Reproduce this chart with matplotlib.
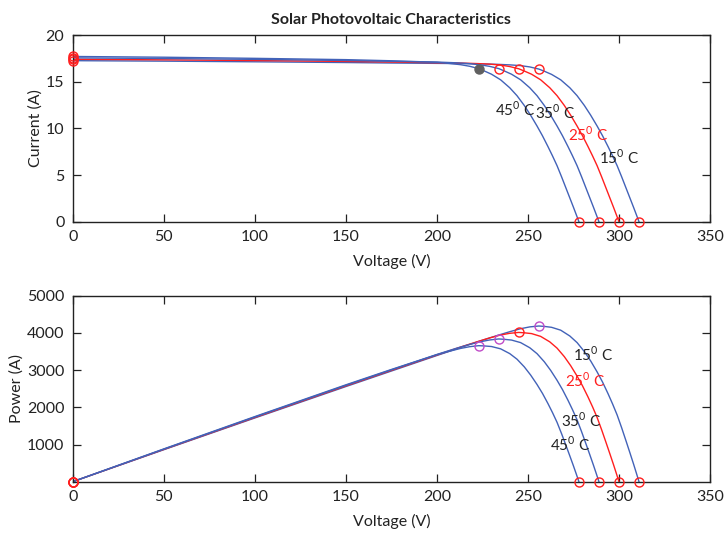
import matplotlib
matplotlib.use("Agg")
import matplotlib.pyplot as plt
import numpy as np

plt.rcParams['font.family'] = ['Lato', 'DejaVu Sans']
plt.rcParams['mathtext.fontset'] = 'custom'
plt.rcParams['mathtext.rm'] = 'Lato'

# ---- data ----
temps = ["15", "25", "35", "45"]

v15 = [0, 50, 100, 150, 175, 200, 216, 225, 233, 240, 246, 251, 256, 259, 263, 268, 273, 277, 281,
       284.5, 288, 291, 294, 296.5, 299, 301.5, 304, 306, 308, 309.5, 311]
i15 = [17.25, 17.20, 17.13, 17.05, 17.00, 16.96, 16.93, 16.90, 16.86, 16.80, 16.72, 16.58, 16.35, 16.12,
       15.78, 15.20, 14.35, 13.50, 12.45, 11.40, 10.25, 9.20, 8.05, 7.05, 6.00, 4.80, 3.55, 2.55, 1.55, 0.78, 0.0]

v25 = [0, 50, 100, 150, 175, 200, 214, 222, 229, 235, 240, 245, 248, 252, 257, 262, 266, 270,
       273.5, 277, 280, 283, 285.5, 288, 290.5, 293, 295, 297, 298.5, 300]
i25 = [17.40, 17.34, 17.26, 17.17, 17.10, 17.03, 16.99, 16.94, 16.88, 16.78, 16.62, 16.38, 16.14, 15.80,
       15.20, 14.35, 13.50, 12.45, 11.40, 10.25, 9.20, 8.05, 7.05, 6.00, 4.80, 3.55, 2.55, 1.55, 0.78, 0.0]

v35 = [0, 50, 100, 150, 175, 200, 203, 211, 218, 224, 229, 234, 237, 241, 246, 251, 255, 259,
       262.5, 266, 269, 272, 274.5, 277, 279.5, 282, 284, 286, 287.5, 289]
i35 = [17.55, 17.48, 17.39, 17.27, 17.18, 17.10, 17.08, 17.02, 16.93, 16.80, 16.64, 16.40, 16.15, 15.80,
       15.20, 14.35, 13.50, 12.45, 11.40, 10.25, 9.20, 8.05, 7.05, 6.00, 4.80, 3.55, 2.55, 1.55, 0.78, 0.0]

v45 = [0, 50, 100, 150, 175, 200, 207, 213, 218, 223, 226, 230, 235, 240, 244, 248, 251.5, 255,
       258, 261, 263.5, 266, 268.5, 271, 273, 275, 276.5, 278]
i45 = [17.70, 17.62, 17.50, 17.36, 17.24, 17.08, 16.95, 16.82, 16.65, 16.40, 16.15, 15.80, 15.20, 14.35,
       13.50, 12.45, 11.40, 10.25, 9.20, 8.05, 7.05, 6.00, 4.80, 3.55, 2.55, 1.55, 0.78, 0.0]

# maximum power point voltages
mpp_v = {"15": 256, "25": 245, "35": 234, "45": 223}

curves = {"15": (v15, i15), "25": (v25, i25), "35": (v35, i35), "45": (v45, i45)}

xticks = [0, 50, 100, 150, 200, 250, 300, 350]
yticks_i = [0, 5, 10, 15, 20]
yticks_p = [1000, 2000, 3000, 4000, 5000]

# label positions (V, value) for annotations
lab_top = {"45": (232.0, 12.0), "35": (253.7, 11.7), "25": (271.8, 9.3), "15": (289.3, 6.9)}
lab_bot = {"15": (275, 3420), "25": (270.5, 2730), "35": (268, 1640), "45": (262.3, 1010)}

BLUE = "#4262b8"
RED = "#ff1f1f"
MAG = "#c04cc8"
DARK = "#222222"
FS = 11.5
FSL = 11

fig = plt.figure(figsize=(7.25, 5.36), dpi=100)
ax1 = fig.add_axes([0.1003, 0.5864, 0.879, 0.3483])
ax2 = fig.add_axes([0.1003, 0.1013, 0.879, 0.347])

def style(ax):
    ax.set_xlim(0, 350)
    ax.set_xticks(xticks)
    ax.tick_params(direction='in', length=6, width=0.9, top=True, right=True,
                   labelsize=FS, colors=DARK, pad=6)
    for s in ax.spines.values():
        s.set_linewidth(1.0)
        s.set_color(DARK)
    ax.set_xlabel("Voltage (V)", fontsize=FS, color=DARK, labelpad=7)

for t in temps:
    v, i = curves[t]
    k = v.index(mpp_v[t])
    v = np.array(v, float)
    i = np.array(i, float)
    p = v * i
    col = RED if t == "25" else BLUE
    ax1.plot(v, i, color=col, lw=1.0, zorder=2)
    ax2.plot(v, p, color=col, lw=1.0, zorder=2)
    # top markers
    ax1.plot([v[0]], [i[0]], 'o', mfc='none', mec=RED, ms=6.5, mew=1.0, clip_on=False, zorder=3)
    ax1.plot([v[-1]], [i[-1]], 'o', mfc='none', mec=RED, ms=6.5, mew=1.0, clip_on=False, zorder=3)
    if t == "45":
        ax1.plot([v[k]], [i[k]], 'o', mfc='#606060', mec='#606060', ms=6.5, zorder=3)
    else:
        ax1.plot([v[k]], [i[k]], 'o', mfc='none', mec=RED, ms=6.5, mew=1.0, zorder=3)
    # bottom markers
    ax2.plot([v[-1]], [p[-1]], 'o', mfc='none', mec=RED, ms=6.5, mew=1.0, clip_on=False, zorder=3)
    ax2.plot([v[k]], [p[k]], 'o', mfc='none', mec=(RED if t == "25" else MAG), ms=6.5, mew=1.0, zorder=3)
    ax2.plot([v[0]], [p[0]], 'o', mfc='none', mec=RED, ms=6.5, mew=1.0, clip_on=False, zorder=3)

    tc = RED if t == "25" else DARK
    x, y = lab_top[t]
    ax1.text(x, y, t + r"$^{\mathregular{0}}$ C", color=tc, fontsize=FSL, ha='left', va='center')
    x, y = lab_bot[t]
    ax2.text(x, y, t + r"$^{\mathregular{0}}$ C", color=tc, fontsize=FSL, ha='left', va='center')

style(ax1)
ax1.set_ylim(0, 20)
ax1.set_yticks(yticks_i)
ax1.set_ylabel("Current (A)", fontsize=FS, color=DARK, labelpad=2)
ax1.set_title("Solar Photovoltaic Characteristics", fontsize=FS, fontweight='bold', color=DARK, pad=8)

style(ax2)
ax2.set_ylim(0, 5000)
ax2.set_yticks(yticks_p)
ax2.set_ylabel("Power (A)", fontsize=FS, color=DARK, labelpad=2)

fig.savefig("out.png", dpi=100)
